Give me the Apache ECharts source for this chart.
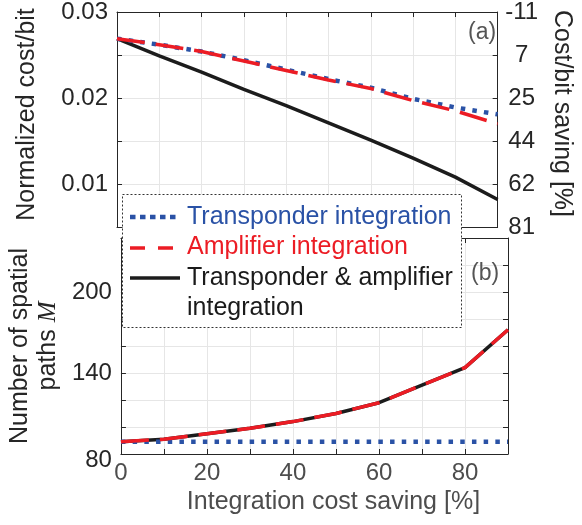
<!DOCTYPE html>
<html>
<head>
<meta charset="utf-8">
<script src="https://cdn.jsdelivr.net/npm/echarts@6/dist/echarts.min.js"></script>
<style>
html,body{margin:0;padding:0;background:#fff;}
#chart{width:582px;height:525px;}
</style>
</head>
<body>
<div id="chart"></div>
<script>
// ---- data ----
const costSaving = [0, 10, 20, 30, 40, 50, 60, 70, 80, 90];
const costTransponder = [0.0269, 0.0262, 0.0254, 0.0244, 0.0233, 0.0222, 0.0212, 0.0199, 0.0189, 0.0181];
const costAmplifier   = [0.0269, 0.0262, 0.0254, 0.0243, 0.0232, 0.0221, 0.0211, 0.0197, 0.0185, 0.0170];
const costBoth        = [0.0269, 0.0249, 0.0230, 0.0210, 0.0191, 0.0171, 0.0151, 0.0130, 0.0108, 0.0082];
const pathsTransponder = [89, 89, 89, 89, 89, 89, 89, 89, 89, 89];
const pathsAmplifier   = [89, 91, 95, 99, 104, 110, 118, 131, 144, 172];
const pathsBoth        = [89, 91, 95, 99, 104, 110, 118, 131, 144, 172];
const costTickLabels = ['', '0.01', '', '0.02', '', '0.03'];      // ticks 0.005 .. 0.03
const savingTickLabels = ['81', '62', '44', '25', '7', '-11'];   // same ticks, right axis
const pathsTickLabels = ['80', '', '', '140', '', '', '200', '', '']; // ticks 80 .. 240
const xTickLabels = ['0', '', '20', '', '40', '', '60', '', '80', ''];
const seriesNames = ['Transponder integration', 'Amplifier integration', 'Transponder & amplifier integration'];

const BLUE = '#2a52a6', RED = '#ec1c24', BLACK = '#1c1c1c';
const AX = '#262626', XL = '#4d4d4d', GRID = '#e6e6e6';
const FONT = 'Liberation Sans';
const TS = 25; // title / legend font size

function pair(xs, ys) { return xs.map((x, i) => [x, ys[i]]); }
function idxOf(v, min, step) { return Math.round((v - min) / step); }

const chart = echarts.init(document.getElementById('chart'), null, {renderer: 'canvas'});

const xBase = (grid, pos, showLabel, showSplit) => ({
  type: 'value', gridIndex: grid, position: pos, min: 0, max: 90, interval: 10,
  axisLine: {show: true, onZero: false, lineStyle: {color: AX, width: 1}},
  axisTick: {show: true, inside: true, length: 5, lineStyle: {color: AX}},
  splitLine: {show: showSplit, lineStyle: {color: GRID, width: 1}},
  axisLabel: {show: showLabel, color: XL, fontSize: 24, fontFamily: FONT, margin: 7,
    formatter: v => xTickLabels[idxOf(v, 0, 10)] || ''}
});

const LZ = 100;
const option = {
  animation: false,
  backgroundColor: '#fff',
  grid: [
    {left: 117, top: 9, width: 391, height: 218},
    {left: 117, top: 238, width: 391, height: 216}
  ],
  xAxis: [
    xBase(0, 'bottom', false, true),
    xBase(0, 'top', false, false),
    Object.assign(xBase(1, 'bottom', true, true), {
      name: 'Integration cost saving [%]', nameLocation: 'middle', nameGap: 36,
      nameTextStyle: {color: XL, fontSize: TS, fontFamily: FONT, padding: [0, 0, 0, 38]}
    }),
    xBase(1, 'top', false, false)
  ],
  yAxis: [
    {
      type: 'value', gridIndex: 0, position: 'left', min: 0.005, max: 0.03, interval: 0.005,
      name: 'Normalized cost/bit', nameLocation: 'middle', nameRotate: 90, nameGap: 77,
      nameTextStyle: {color: AX, fontSize: TS, fontFamily: FONT, padding: [0, 0, 0, 10]},
      axisLine: {show: true, onZero: false, lineStyle: {color: AX}},
      axisTick: {show: true, inside: true, length: 5, lineStyle: {color: AX}},
      splitLine: {show: true, lineStyle: {color: GRID}},
      axisLabel: {color: AX, fontSize: 24, fontFamily: FONT, margin: 9,
        formatter: v => costTickLabels[idxOf(v, 0.005, 0.005)] || ''}
    },
    {
      type: 'value', gridIndex: 0, position: 'right', min: 0.005, max: 0.03, interval: 0.005,
      name: 'Cost/bit saving [%]', nameLocation: 'middle', nameRotate: -90, nameGap: 44,
      nameTextStyle: {color: AX, fontSize: TS, fontFamily: FONT, padding: [0, 12, 0, 0]},
      axisLine: {show: true, onZero: false, lineStyle: {color: AX}},
      axisTick: {show: true, inside: true, length: 5, lineStyle: {color: AX}},
      splitLine: {show: false},
      axisLabel: {color: AX, fontSize: 24, fontFamily: FONT, margin: 24, align: 'center',
        formatter: v => savingTickLabels[idxOf(v, 0.005, 0.005)] || ''}
    },
    {
      type: 'value', gridIndex: 1, position: 'left', min: 80, max: 240, interval: 20,
      name: '{t|Number of spatial}\n{t|paths }{m|M}', nameLocation: 'middle', nameRotate: 90, nameGap: 54,
      nameTextStyle: {color: AX, fontSize: TS, fontFamily: FONT,
        rich: {t: {fontSize: TS, fontFamily: FONT, color: AX, lineHeight: 28},
               m: {fontSize: TS, fontFamily: 'Liberation Serif', fontStyle: 'italic', color: AX, lineHeight: 28}}},
      axisLine: {show: true, onZero: false, lineStyle: {color: AX}},
      axisTick: {show: true, inside: true, length: 5, lineStyle: {color: AX}},
      splitLine: {show: true, lineStyle: {color: GRID}},
      axisLabel: {color: AX, fontSize: 24, fontFamily: FONT, margin: 9,
        formatter: v => {
          const s = pathsTickLabels[idxOf(v, 80, 20)] || '';
          return v === 80 ? '{low|' + s + '}' : s;
        },
        rich: {low: {fontSize: 24, fontFamily: FONT, color: AX, padding: [12, 0, 0, 0]}}}
    },
    {
      type: 'value', gridIndex: 1, position: 'right', min: 80, max: 240, interval: 20,
      axisLine: {show: true, onZero: false, lineStyle: {color: AX}},
      axisTick: {show: true, inside: true, length: 5, lineStyle: {color: AX}},
      splitLine: {show: false},
      axisLabel: {show: false}
    }
  ],
  series: [
    {name: seriesNames[2], type: 'line', xAxisIndex: 0, yAxisIndex: 0, data: pair(costSaving, costBoth),
      showSymbol: false, symbol: 'none', lineStyle: {color: BLACK, width: 3.5}, z: 2},
    {name: seriesNames[0], type: 'line', xAxisIndex: 0, yAxisIndex: 0, data: pair(costSaving, costTransponder),
      showSymbol: false, symbol: 'none', lineStyle: {color: BLUE, width: 4.5, type: [4.5, 7.2], cap: 'butt'}, z: 3},
    {name: seriesNames[1], type: 'line', xAxisIndex: 0, yAxisIndex: 0, data: pair(costSaving, costAmplifier),
      showSymbol: false, symbol: 'none', lineStyle: {color: RED, width: 3.5, type: [28, 11], cap: 'butt'}, z: 4},
    {name: seriesNames[2], type: 'line', xAxisIndex: 2, yAxisIndex: 2, data: pair(costSaving, pathsBoth),
      showSymbol: false, symbol: 'none', lineStyle: {color: BLACK, width: 3.5}, z: 2},
    {name: seriesNames[0], type: 'line', xAxisIndex: 2, yAxisIndex: 2, data: pair(costSaving, pathsTransponder),
      showSymbol: false, symbol: 'none', lineStyle: {color: BLUE, width: 4.5, type: [4.5, 7.2], cap: 'butt'}, z: 3},
    {name: seriesNames[1], type: 'line', xAxisIndex: 2, yAxisIndex: 2, data: pair(costSaving, pathsAmplifier),
      showSymbol: false, symbol: 'none', lineStyle: {color: RED, width: 3.5, type: [28, 11], cap: 'butt'}, z: 4}
  ],
  legend: {show: false},
  graphic: [
    {type: 'text', left: 468, top: 21, z: 10, style: {text: '(a)', fill: '#555', font: '23px "Liberation Sans"'}},
    {type: 'text', left: 471, top: 262, z: 10, style: {text: '(b)', fill: '#555', font: '23px "Liberation Sans"'}},
    {type: 'rect', z: LZ, shape: {x: 122.5, y: 194.5, width: 339, height: 133},
      style: {fill: '#ffffff', stroke: '#333', lineWidth: 1, lineDash: [2, 2]}},
    {type: 'line', z: LZ + 1, shape: {x1: 130, y1: 217, x2: 180, y2: 217},
      style: {stroke: BLUE, lineWidth: 4.5, lineDash: [5.5, 4.5]}},
    {type: 'text', z: LZ + 1, style: {x: 187, y: 217, text: seriesNames[0], fill: BLUE, font: TS + 'px "Liberation Sans"', verticalAlign: 'middle'}},
    {type: 'line', z: LZ + 1, shape: {x1: 130, y1: 248, x2: 180, y2: 248},
      style: {stroke: RED, lineWidth: 3.5, lineDash: [15, 13]}},
    {type: 'text', z: LZ + 1, style: {x: 187, y: 247, text: seriesNames[1], fill: RED, font: TS + 'px "Liberation Sans"', verticalAlign: 'middle'}},
    {type: 'line', z: LZ + 1, shape: {x1: 130, y1: 278, x2: 180, y2: 278},
      style: {stroke: BLACK, lineWidth: 3.5}},
    {type: 'text', z: LZ + 1, style: {x: 187, y: 263, text: 'Transponder & amplifier\nintegration', fill: '#1a1a1a',
      font: TS + 'px "Liberation Sans"', verticalAlign: 'top', lineHeight: 30}}
  ]
};
chart.setOption(option);
</script>
</body>
</html>
